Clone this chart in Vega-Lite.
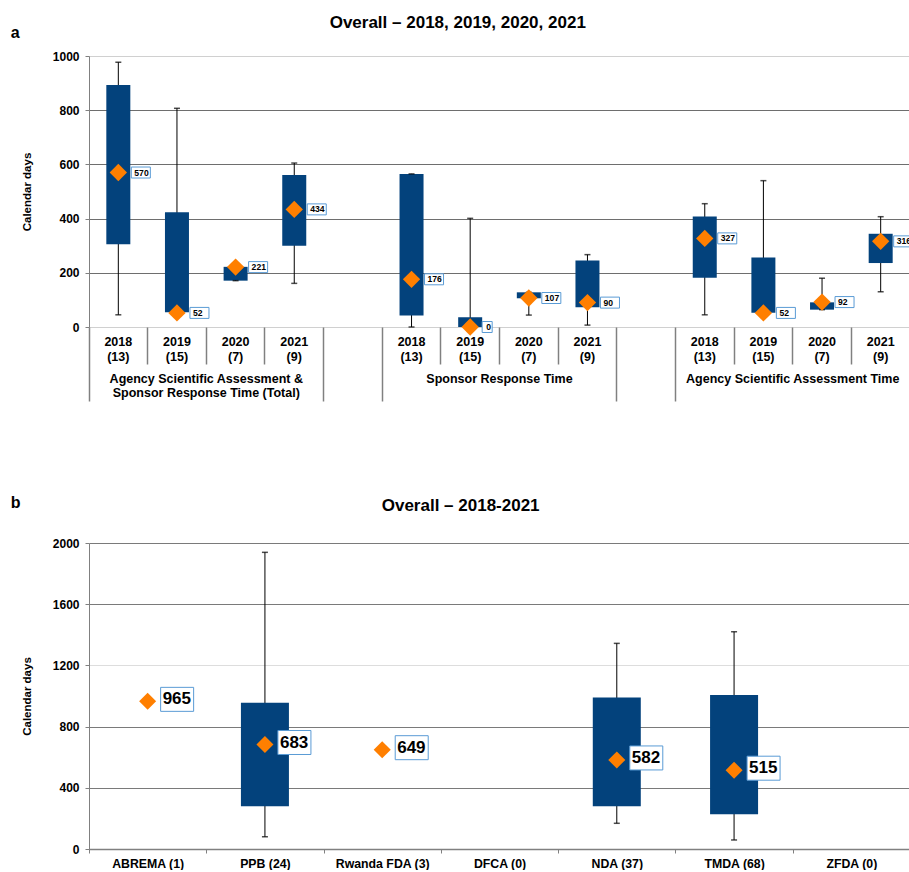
{
  "$schema": "https://vega.github.io/schema/vega-lite/v6.json",
  "padding": {"left": 10, "top": 14, "right": 0, "bottom": 0},
  "background": "white",
  "config": {
    "font": "Liberation Sans",
    "view": {"stroke": null},
    "title": {"font": "Liberation Sans", "fontWeight": "bold", "color": "black"},
    "axis": {"labelFont": "Liberation Sans", "titleFont": "Liberation Sans", "labelColor": "black", "titleColor": "black", "labelFontWeight": "bold", "titleFontWeight": "bold"},
    "concat": {"spacing": 93}
  },
  "datasets": {
    "panelA": [
      {"cat": "T|2018|(13)", "min": 45, "q1": 305, "q3": 893, "max": 977, "mean": 570},
      {"cat": "T|2019|(15)", "min": 54, "q1": 54, "q3": 423, "max": 807, "mean": 52},
      {"cat": "T|2020|(7)", "min": 171, "q1": 171, "q3": 222, "max": 222, "mean": 221},
      {"cat": "T|2021|(9)", "min": 161, "q1": 300, "q3": 561, "max": 605, "mean": 434},
      {"cat": "S|2018|(13)", "min": 0, "q1": 42, "q3": 565, "max": 565, "mean": 176},
      {"cat": "S|2019|(15)", "min": 0, "q1": 0, "q3": 36, "max": 401, "mean": 0},
      {"cat": "S|2020|(7)", "min": 44, "q1": 106, "q3": 128, "max": 128, "mean": 107},
      {"cat": "S|2021|(9)", "min": 7, "q1": 73, "q3": 245, "max": 267, "mean": 90},
      {"cat": "A|2018|(13)", "min": 45, "q1": 182, "q3": 408, "max": 455, "mean": 327},
      {"cat": "A|2019|(15)", "min": 53, "q1": 53, "q3": 256, "max": 540, "mean": 52},
      {"cat": "A|2020|(7)", "min": 64, "q1": 64, "q3": 91, "max": 180, "mean": 92},
      {"cat": "A|2021|(9)", "min": 130, "q1": 236, "q3": 344, "max": 407, "mean": 316}
    ],
    "panelB": [
      {"agency": "ABREMA (1)", "min": null, "q1": null, "q3": null, "max": null, "mean": 965},
      {"agency": "PPB (24)", "min": 80, "q1": 279, "q3": 956, "max": 1939, "mean": 683},
      {"agency": "Rwanda FDA (3)", "min": null, "q1": null, "q3": null, "max": null, "mean": 649},
      {"agency": "DFCA (0)", "min": null, "q1": null, "q3": null, "max": null, "mean": null},
      {"agency": "NDA (37)", "min": 168, "q1": 279, "q3": 991, "max": 1344, "mean": 582},
      {"agency": "TMDA (68)", "min": 59, "q1": 227, "q3": 1006, "max": 1420, "mean": 515},
      {"agency": "ZFDA (0)", "min": null, "q1": null, "q3": null, "max": null, "mean": null}
    ]
  },
  "vconcat": [
    {
      "title": {"text": "Overall – 2018, 2019, 2020, 2021", "anchor": "middle", "frame": "bounds", "fontSize": 17, "offset": -7, "dx": -5},
      "vconcat": [
        {
          "title": {"text": "a", "anchor": "start", "frame": "bounds", "fontSize": 16, "offset": 9, "dx": -11},
          "width": 821,
          "height": 271,
          "data": {"name": "panelA"},
          "resolve": {"axis": {"x": "independent"}},
          "layer": [
            {
              "mark": {"type": "rule", "color": "black", "strokeWidth": 1},
              "encoding": {
                "x": {"field": "cat", "type": "nominal",
                  "scale": {"type": "band", "domain": ["T|2018|(13)", "T|2019|(15)", "T|2020|(7)", "T|2021|(9)", "gap1", "S|2018|(13)", "S|2019|(15)", "S|2020|(7)", "S|2021|(9)", "gap2", "A|2018|(13)", "A|2019|(15)", "A|2020|(7)", "A|2021|(9)"], "paddingInner": 0, "paddingOuter": 0},
                  "axis": {"title": null, "orient": "bottom", "domain": false, "grid": false, "ticks": false,
                    "labelAngle": 0, "labelFontSize": 12.5, "labelLineHeight": 15, "labelPadding": 8, "labelBaseline": "top",
                    "labelExpr": "indexof(datum.value, '|') < 0 ? '' : slice(split(datum.value, '|'), 1)",
                    "labelOverlap": false, "labelBound": false, "labelFlush": false}},
                "y": {"field": "min", "type": "quantitative", "scale": {"domain": [0, 1000], "nice": false},
                  "axis": {"title": "Calendar days", "titleFontSize": 11.5, "titlePadding": 19.5,
                    "values": [0, 100, 200, 300, 400, 500, 600, 700, 800, 900, 1000], "format": "d",
                    "labelExpr": "datum.value % 200 === 0 ? datum.label : ''",
                    "labelFontSize": 12, "labelPadding": 6, "tickSize": 4, "tickColor": "#808080", "domainColor": "#808080",
                    "grid": true, "gridWidth": 1,
                    "gridOpacity": {"condition": {"test": "datum.value % 200 !== 0", "value": 0}, "value": 1},
                    "gridColor": {"condition": {"test": "datum.value === 0 || datum.value === 1000", "value": "#d0d0d0"}, "value": "#6e6e6e"}}},
                "y2": {"field": "max"}
              }
            },
            {
              "mark": {"type": "bar", "color": "#03427C", "size": 24},
              "encoding": {
                "x": {"field": "cat", "type": "nominal",
                  "axis": {"title": null, "orient": "bottom", "domain": false, "grid": false, "labels": false,
                    "values": ["T|2019|(15)", "T|2020|(7)", "T|2021|(9)", "S|2019|(15)", "S|2020|(7)", "S|2021|(9)", "A|2019|(15)", "A|2020|(7)", "A|2021|(9)"],
                    "bandPosition": 0, "tickColor": "#808080", "tickWidth": 1.5, "tickSize": 37}},
                "y": {"field": "q1", "type": "quantitative"},
                "y2": {"field": "q3"}
              }
            },
            {
              "mark": {"type": "tick", "color": "black", "size": 6, "thickness": 1.5, "orient": "horizontal"},
              "encoding": {
                "x": {"field": "cat", "type": "nominal",
                  "axis": {"title": null, "orient": "bottom", "domain": false, "grid": false, "labels": false,
                    "values": ["T|2018|(13)", "gap1", "S|2018|(13)", "gap2", "A|2018|(13)"],
                    "bandPosition": 0, "tickColor": "#808080", "tickWidth": 1.5, "tickSize": 74}},
                "y": {"field": "min", "type": "quantitative"}
              }
            },
            {
              "mark": {"type": "tick", "color": "black", "size": 6, "thickness": 1.5, "orient": "horizontal"},
              "encoding": {
                "x": {"field": "cat", "type": "nominal", "axis": null},
                "y": {"field": "max", "type": "quantitative"}
              }
            },
            {
              "mark": {"type": "point", "shape": "diamond", "filled": true, "color": "#FF7F00", "size": 300, "opacity": 1},
              "encoding": {
                "x": {"field": "cat", "type": "nominal", "axis": null},
                "y": {"field": "mean", "type": "quantitative"}
              }
            },
            {
              "mark": {"type": "point", "filled": true, "fill": "white", "stroke": "#5A9BD5", "strokeWidth": 1, "size": 121, "opacity": 1},
              "encoding": {
                "x": {"field": "cat", "type": "nominal", "axis": null},
                "y": {"field": "mean", "type": "quantitative"},
                "shape": {"condition": {"test": "datum.mean < 10", "value": "M2.18,-1H4V1H2.18Z"}, "value": "M2.36,-1H5.82V1H2.36Z"}
              }
            },
            {
              "mark": {"type": "text", "align": "left", "dx": 16, "baseline": "middle", "fontSize": 8.6, "fontWeight": "bold", "color": "black"},
              "encoding": {
                "x": {"field": "cat", "type": "nominal",
                  "axis": {"title": null, "orient": "bottom", "domain": false, "grid": false, "ticks": false,
                    "values": ["T|2020|(7)", "S|2020|(7)", "A|2020|(7)"], "labelOffset": -29.32,
                    "labelAngle": 0, "labelFontSize": 12.5, "labelLineHeight": 14.5, "labelPadding": 45, "labelBaseline": "top", "labelLimit": 0,
                    "labelExpr": "datum.value == 'T|2020|(7)' ? ['Agency Scientific Assessment &', 'Sponsor Response Time (Total)'] : datum.value == 'S|2020|(7)' ? 'Sponsor Response Time' : 'Agency Scientific Assessment Time'",
                    "labelOverlap": false, "labelBound": false, "labelFlush": false}},
                "y": {"field": "mean", "type": "quantitative"},
                "text": {"field": "mean", "type": "quantitative", "format": "d"}
              }
            }
          ]
        }
      ]
    },
    {
      "title": {"text": "Overall – 2018-2021", "anchor": "middle", "frame": "bounds", "fontSize": 17, "offset": -20},
      "vconcat": [
        {
          "title": {"text": "b", "anchor": "start", "frame": "bounds", "fontSize": 16, "offset": 26, "dx": -11},
          "width": 821,
          "height": 306,
          "data": {"name": "panelB"},
          "layer": [
            {
              "mark": {"type": "rule", "color": "black", "strokeWidth": 1},
              "encoding": {
                "x": {"field": "agency", "type": "nominal",
                  "scale": {"type": "band", "domain": ["ABREMA (1)", "PPB (24)", "Rwanda FDA (3)", "DFCA (0)", "NDA (37)", "TMDA (68)", "ZFDA (0)"], "paddingInner": 0, "paddingOuter": 0},
                  "axis": {"title": null, "orient": "bottom", "domain": true, "domainColor": "#808080", "domainWidth": 1.5, "grid": false,
                    "tickBand": "extent", "tickSize": 4, "tickColor": "#808080",
                    "labelAngle": 0, "labelFontSize": 12.3, "labelPadding": 4, "labelBaseline": "top",
                    "labelOverlap": false, "labelBound": false, "labelFlush": false}},
                "y": {"field": "min", "type": "quantitative", "scale": {"domain": [0, 2000], "nice": false},
                  "axis": {"title": "Calendar days", "titleFontSize": 11.5, "titlePadding": 19.5,
                    "values": [0, 200, 400, 600, 800, 1000, 1200, 1400, 1600, 1800, 2000], "format": "d",
                    "labelExpr": "datum.value % 400 === 0 ? datum.label : ''",
                    "labelFontSize": 12, "labelPadding": 6, "tickSize": 4, "tickColor": "#808080", "domainColor": "#808080",
                    "grid": true, "gridWidth": 1,
                    "gridOpacity": {"condition": {"test": "datum.value % 400 !== 0", "value": 0}, "value": 1},
                    "gridColor": {"condition": {"test": "datum.value === 1200", "value": "#dddddd"}, "value": "#7a7a7a"}}},
                "y2": {"field": "max"}
              }
            },
            {
              "mark": {"type": "bar", "color": "#03427C", "size": 48},
              "encoding": {
                "x": {"field": "agency", "type": "nominal"},
                "y": {"field": "q1", "type": "quantitative"},
                "y2": {"field": "q3"}
              }
            },
            {
              "mark": {"type": "tick", "color": "black", "size": 6, "thickness": 1.5, "orient": "horizontal"},
              "encoding": {
                "x": {"field": "agency", "type": "nominal"},
                "y": {"field": "min", "type": "quantitative"}
              }
            },
            {
              "mark": {"type": "tick", "color": "black", "size": 6, "thickness": 1.5, "orient": "horizontal"},
              "encoding": {
                "x": {"field": "agency", "type": "nominal"},
                "y": {"field": "max", "type": "quantitative"}
              }
            },
            {
              "mark": {"type": "point", "shape": "diamond", "filled": true, "color": "#FF7F00", "size": 290, "opacity": 1},
              "encoding": {
                "x": {"field": "agency", "type": "nominal"},
                "y": {"field": "mean", "type": "quantitative"}
              }
            },
            {
              "mark": {"type": "point", "filled": true, "fill": "white", "stroke": "#5A9BD5", "strokeWidth": 1, "size": 576, "opacity": 1, "shape": "M1.083,-1.167H3.833V0.833H1.083Z"},
              "encoding": {
                "x": {"field": "agency", "type": "nominal"},
                "y": {"field": "mean", "type": "quantitative"}
              }
            },
            {
              "mark": {"type": "text", "align": "left", "dx": 15, "dy": -2, "baseline": "middle", "fontSize": 17, "fontWeight": "bold", "color": "black"},
              "encoding": {
                "x": {"field": "agency", "type": "nominal"},
                "y": {"field": "mean", "type": "quantitative"},
                "text": {"field": "mean", "type": "quantitative", "format": "d"}
              }
            }
          ]
        }
      ]
    }
  ]
}
